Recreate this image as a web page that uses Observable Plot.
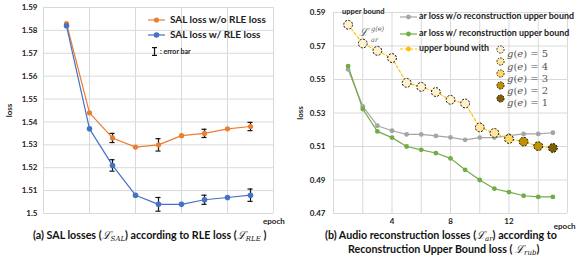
<!DOCTYPE html>
<html><head><meta charset="utf-8">
<script src="https://cdn.jsdelivr.net/npm/d3@7"></script>
<script src="https://cdn.jsdelivr.net/npm/@observablehq/plot@0.6"></script>
<style>
body{margin:0;background:#fff;font-family:Lato,"Open Sans",sans-serif;}
#wrap{position:relative;width:578px;height:260px;overflow:hidden;background:#fff;}
.abs{position:absolute;white-space:nowrap;line-height:1;}
.lg{font-weight:bold;color:#222;}
.m{font-family:"DejaVu Serif",serif;font-style:italic;font-weight:normal;color:#555;}
.cap{position:absolute;white-space:nowrap;font-weight:bold;font-size:10.7px;color:#111;line-height:12px;height:12px;}
.cap sub{font-size:7px;font-style:italic;font-family:"DejaVu Serif",serif;font-weight:normal;vertical-align:-2px;line-height:0;}
.cap .m{color:#111;line-height:0;}
</style></head><body><div id="wrap"></div>
<script>
// ---------- Panel (a) data ----------
const epochsA = [1, 2, 3, 4, 5, 6, 7, 8, 9];
const salWithoutRLE = [1.583, 1.544, 1.533, 1.529, 1.530, 1.534, 1.535, 1.537, 1.538];
const salWithRLE = [1.582, 1.537, 1.521, 1.508, 1.504, 1.504, 1.506, 1.507, 1.508];
const errEpochs = [3, 5, 7, 9];
const errWithout = [0.002, 0.0027, 0.0018, 0.0018];
const errWith = [0.0025, 0.003, 0.002, 0.0027];
const yTicksA = [1.5, 1.51, 1.52, 1.53, 1.54, 1.55, 1.56, 1.57, 1.58, 1.59];
const xGridA = [0, 2, 4, 6, 8, 10];

// ---------- Panel (b) data ----------
const epochsB = [1, 2, 3, 4, 5, 6, 7, 8, 9, 10, 11, 12, 13, 14, 15];
const arWithout = [0.556, 0.534, 0.5224, 0.5194, 0.5172, 0.5172, 0.5163, 0.5154, 0.514, 0.5153, 0.5153, 0.5165, 0.5175, 0.5175, 0.5182];
const arWith = [0.558, 0.5324, 0.519, 0.5153, 0.510, 0.508, 0.5061, 0.5029, 0.4961, 0.490, 0.4848, 0.4828, 0.4806, 0.4799, 0.4799];
const upperBound = [0.5827, 0.5715, 0.5671, 0.5628, 0.548, 0.5456, 0.5425, 0.5379, 0.5357, 0.5214, 0.5181, 0.5145, 0.5129, 0.5102, 0.5091];
const gValues = [5, 5, 5, 5, 5, 5, 5, 5, 5, 4, 4, 3, 2, 2, 1];
const gLevels = [5, 4, 3, 2, 1];
const gColors = ["#FFF2CC", "#FFE699", "#FFD966", "#BF9000", "#7F6000"];
const yTicksB = [0.47, 0.49, 0.51, 0.53, 0.55, 0.57, 0.59];
const xGridB = [0, 2, 4, 6, 8, 10, 12, 14, 16];
const xTickLabelsB = [4, 8, 12];

const ORANGE = "#ED7D31", BLUE = "#4472C4", GRAY = "#A5A5A5", GREEN = "#70AD47", GOLD = "#FFC000", GRID = "#d9d9d9";

const dataA = epochsA.map((e, i) => ({epoch: e, without: salWithoutRLE[i], with: salWithRLE[i]}));
const errA = [];
errEpochs.forEach((e, i) => {
  const k = epochsA.indexOf(e);
  errA.push({epoch: e, lo: salWithoutRLE[k] - errWithout[i], hi: salWithoutRLE[k] + errWithout[i]});
  errA.push({epoch: e, lo: salWithRLE[k] - errWith[i], hi: salWithRLE[k] + errWith[i]});
});
const capA = errA.flatMap(d => [{epoch: d.epoch, y: d.lo}, {epoch: d.epoch, y: d.hi}]);
const capHalf = 0.11;

const wrap = document.getElementById("wrap");

const plotA = Plot.plot({
  width: 290, height: 230,
  marginLeft: 43, marginRight: 17, marginTop: 7, marginBottom: 17,
  x: {domain: [0, 10], axis: null},
  y: {domain: [1.5, 1.59], axis: null},
  style: {fontFamily: "Lato, 'Open Sans', sans-serif", fontSize: "8px", fontWeight: "bold", color: "#222", overflow: "visible", background: "transparent"},
  marks: [
    Plot.ruleX(xGridA, {stroke: GRID, strokeWidth: 1}),
    Plot.ruleY(yTicksA, {stroke: GRID, strokeWidth: 1}),
    Plot.axisY(yTicksA, {tickSize: 0, tickPadding: 6, tickFormat: d => d === 1.5 ? "1.5" : d.toFixed(2),
      label: "loss", labelAnchor: "center", labelOffset: 37, labelArrow: "none"}),
    Plot.line(dataA, {x: "epoch", y: "without", stroke: ORANGE, strokeWidth: 1.2}),
    Plot.line(dataA, {x: "epoch", y: "with", stroke: BLUE, strokeWidth: 1.2}),
    Plot.ruleX(errA, {x: "epoch", y1: "lo", y2: "hi", stroke: "#111", strokeWidth: 1.2}),
    Plot.ruleY(capA, {y: "y", x1: d => d.epoch - capHalf, x2: d => d.epoch + capHalf, stroke: "#111", strokeWidth: 1.2}),
    Plot.dot(dataA, {x: "epoch", y: "without", r: 2.6, fill: ORANGE}),
    Plot.dot(dataA, {x: "epoch", y: "with", r: 2.8, fill: BLUE})
  ]
});
plotA.style.position = "absolute"; plotA.style.left = "0px"; plotA.style.top = "0px";
wrap.appendChild(plotA);

const dataB = epochsB.map((e, i) => ({epoch: e, without: arWithout[i], with: arWith[i], ub: upperBound[i], g: gValues[i]}));

const plotB = Plot.plot({
  width: 288, height: 230,
  marginLeft: 43, marginRight: 11, marginTop: 12, marginBottom: 17,
  x: {domain: [0, 16], axis: null},
  y: {domain: [0.47, 0.59], axis: null},
  color: {type: "ordinal", domain: gLevels, range: gColors, legend: false},
  style: {fontFamily: "Lato, 'Open Sans', sans-serif", fontSize: "8px", fontWeight: "bold", color: "#222", overflow: "visible", background: "transparent"},
  marks: [
    Plot.ruleX(xGridB, {stroke: GRID, strokeWidth: 1}),
    Plot.ruleY(yTicksB, {stroke: GRID, strokeWidth: 1}),
    Plot.axisY(yTicksB, {tickSize: 0, tickPadding: 8, tickFormat: d => d.toFixed(2),
      label: "loss", labelAnchor: "center", labelOffset: 36, labelArrow: "none"}),
    Plot.axisX(xTickLabelsB, {tickSize: 0, tickPadding: 5, tickFormat: d => String(d),
      label: "epoch", labelAnchor: "right", labelOffset: 15, labelArrow: "none"}),
    Plot.line(dataB, {x: "epoch", y: "without", stroke: GRAY, strokeWidth: 1.2}),
    Plot.line(dataB, {x: "epoch", y: "with", stroke: GREEN, strokeWidth: 1.2}),
    Plot.dot(dataB, {x: "epoch", y: "without", r: 2.4, fill: GRAY}),
    Plot.dot(dataB, {x: "epoch", y: "with", r: 2.4, fill: GREEN}),
    Plot.line(dataB, {x: "epoch", y: "ub", stroke: GOLD, strokeWidth: 1.1, strokeDasharray: "3,2"}),
    Plot.dot(dataB, {x: "epoch", y: "ub", r: 2, fill: GOLD}),
    Plot.dot(dataB, {x: "epoch", y: "ub", r: 4.4, fill: "g", stroke: "#111", strokeWidth: 1, strokeDasharray: "2,1.4"})
  ]
});
plotB.style.position = "absolute"; plotB.style.left = "290px"; plotB.style.top = "0px";
wrap.appendChild(plotB);

// ---------- Legends & annotations (HTML) ----------
function sw(color, dashed, dot) {
  return `<svg width="17" height="8" style="position:absolute;left:0;top:0"><line x1="0" y1="4" x2="17" y2="4" stroke="${color}" stroke-width="1.2" ${dashed ? 'stroke-dasharray="3,2"' : ''}/><circle cx="8.5" cy="4" r="${dot}" fill="${color}"/></svg>`;
}
function add(html, style, cls) {
  const d = document.createElement("div");
  d.className = cls || "abs";
  d.style.cssText = style;
  d.innerHTML = html;
  wrap.appendChild(d);
  return d;
}
// Panel (a) legend
add(sw(ORANGE, false, 2.6), "left:148px;top:16px;width:17px;height:8px;");
add(`<span class="lg">SAL loss w/o RLE loss</span>`, "left:170px;top:14px;font-size:10px;");
add(sw(BLUE, false, 2.8), "left:148px;top:31px;width:17px;height:8px;");
add(`<span class="lg">SAL loss w/ RLE loss</span>`, "left:170px;top:29px;font-size:10px;");
add(`<svg width="7" height="9" style="position:absolute;left:0;top:0"><line x1="3.5" y1="0.6" x2="3.5" y2="8.4" stroke="#111" stroke-width="1.2"/><line x1="1" y1="0.6" x2="6" y2="0.6" stroke="#111" stroke-width="1.2"/><line x1="1" y1="8.4" x2="6" y2="8.4" stroke="#111" stroke-width="1.2"/></svg>`, "left:151px;top:47px;width:7px;height:9px;");
add(`<span class="lg">: error bar</span>`, "left:160px;top:48px;font-size:7px;");
add(`<span class="lg">epoch</span>`, "left:263px;top:217px;font-size:8px;");

// Panel (b) legend
add(sw(GRAY, false, 2.4), "left:400px;top:13px;width:17px;height:8px;");
add(`<span class="lg">ar loss w/o reconstruction upper bound</span>`, "left:419px;top:12px;font-size:8.9px;");
add(sw(GREEN, false, 2.4), "left:400px;top:30px;width:17px;height:8px;");
add(`<span class="lg">ar loss w/ reconstruction upper bound</span>`, "left:419px;top:29px;font-size:8.9px;");
add(sw(GOLD, true, 2.4), "left:400px;top:45px;width:17px;height:8px;");
add(`<span class="lg">upper bound with</span>`, "left:419px;top:44px;font-size:8.9px;");
const gY = [49, 61.5, 73.5, 85.5, 98];
gLevels.forEach((g, i) => {
  add(`<svg width="9" height="9" style="position:absolute;left:0;top:0"><circle cx="4.5" cy="4.5" r="3.6" fill="${gColors[i]}" stroke="#111" stroke-width="0.9" stroke-dasharray="1.6,1.1"/></svg>`, `left:496px;top:${gY[i] - 4.5}px;width:9px;height:9px;`);
  add(`<span class="m" style="font-size:10px;">g</span><span style="font-family:'DejaVu Serif',serif;font-size:10px;color:#555;">(</span><span class="m" style="font-size:10px;">e</span><span style="font-family:'DejaVu Serif',serif;font-size:10px;color:#555;">) = ${g}</span>`, `left:507px;top:${gY[i] - 6}px;`);
});
add(`<span class="lg">upper bound</span>`, "left:342px;top:8px;font-size:7.5px;");
add(`<span class="m" style="font-size:11px;">ℒ</span>`, "left:359px;top:22px;");
add(`<span class="m" style="font-size:6.5px;">g(e)</span>`, "left:371px;top:16.5px;");
add(`<span class="m" style="font-size:6.5px;">ar</span>`, "left:371px;top:27.5px;");

// Captions
add(`(a) SAL losses (<span class="m" style="font-size:11px">ℒ</span><sub>SAL</sub>) according to RLE loss (<span class="m" style="font-size:11px">ℒ</span><sub>RLE</sub> )`, "left:33px;top:229px;", "cap");
add(`(b) Audio reconstruction losses (<span class="m" style="font-size:11px">ℒ</span><sub>ar</sub>) according to`, "left:325px;top:229px;", "cap");
add(`Reconstruction Upper Bound loss ( <span class="m" style="font-size:11px">ℒ</span><sub>rub</sub>)`, "left:348px;top:243px;", "cap");
</script>
</body></html>
